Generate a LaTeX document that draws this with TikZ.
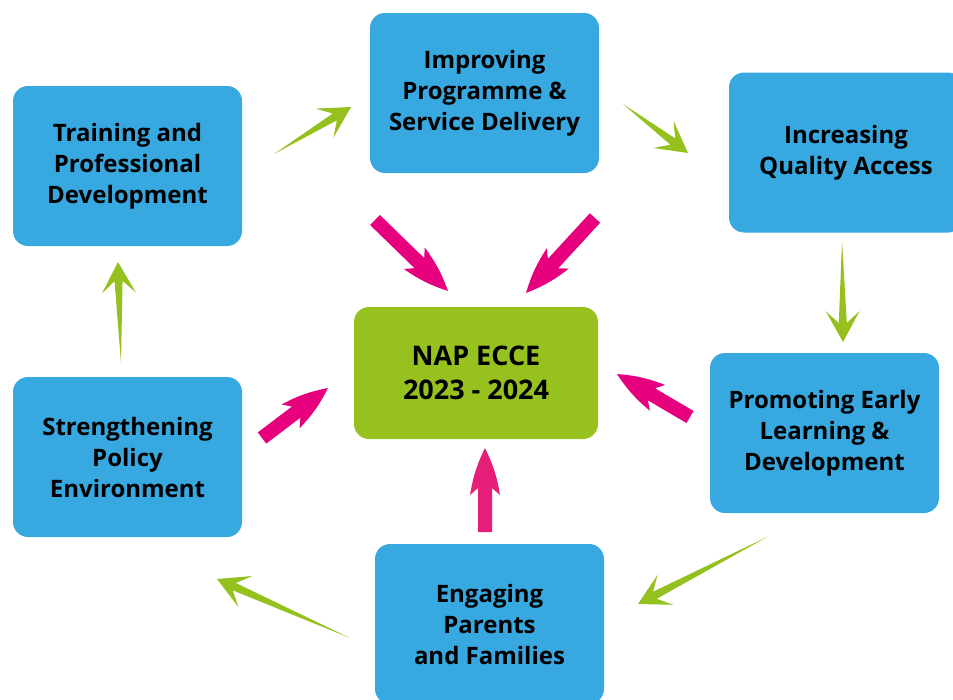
\documentclass[tikz,border=0pt]{standalone}
\usepackage{fontspec}
\usetikzlibrary{calc}

\newfontfamily\boxfont{Open Sans}
\definecolor{boxblue}{HTML}{38A8E0}
\definecolor{boxgreen}{HTML}{97C11F}
\definecolor{arrgreen}{HTML}{95C11F}
\definecolor{arrpink}{HTML}{E6007E}
\definecolor{arrpinkb}{HTML}{E61E78}

% thin-tailed green arrow, from #1 to #2
\newcommand{\greenarrow}[2]{%
  \fill[arrgreen] (#1) -- ($(#2)!19pt!(#1)!4pt!90:(#1)$)
    -- ($(#2)!31pt!(#1)!17pt!90:(#1)$) -- (#2)
    -- ($(#2)!31pt!(#1)!17pt!-90:(#1)$)
    -- ($(#2)!19pt!(#1)!4pt!-90:(#1)$) -- cycle;}
% thick pink arrow, from #2 to #3
\newcommand{\pinkarrow}[3][arrpink]{%
  \fill[#1] ($(#2)!7pt!-90:(#3)$) -- ($(#3)!40pt!(#2)!7pt!90:(#2)$)
    -- ($(#3)!47pt!(#2)!15pt!90:(#2)$) to[bend right=8] (#3)
    to[bend right=8] ($(#3)!47pt!(#2)!15pt!-90:(#2)$)
    -- ($(#3)!40pt!(#2)!7pt!-90:(#2)$) -- ($(#2)!7pt!90:(#3)$) -- cycle;}

\begin{document}
\begin{tikzpicture}[x=1pt, y=-1pt, box/.style = {rectangle, rounded corners=15pt,
	fill=boxblue, minimum width=229pt, minimum height=160pt, align=center,
	font=\boxfont\bfseries\fontsize{24}{31}\selectfont}]

	\useasboundingbox (0,0) rectangle (953,699);

	\node[box] (train) at (127.5,166) {Training and\\Professional\\Development};
	\node[box] (improve) at (484.5,93) {Improving\\Programme \&\\Service Delivery};
	\node[box, minimum width=234pt] (access) at (846,152.5) {Increasing\\Quality Access};
	\node[box] (promote) at (824.5,433) {Promoting Early\\Learning \&\\Development};
	\node[box] (engage) at (489.5,624) {Engaging\\Parents\\and Families};
	\node[box] (policy) at (127.5,457) {Strengthening\\Policy\\Environment};
	\node[box, fill=boxgreen, minimum width=244pt, minimum height=132pt,
		font=\boxfont\bfseries\fontsize{27}{34}\selectfont] (nap)
		at (476,373) {NAP ECCE\\2023 - 2024};

	% green arrows round the ring
	\coordinate (g1a) at (274,154); \coordinate (g1b) at (351,107);
	\coordinate (g2a) at (623,104); \coordinate (g2b) at (688,153);
	\coordinate (g3a) at (842,241); \coordinate (g3b) at (843,342);
	\coordinate (g4a) at (767,537); \coordinate (g4b) at (638,604);
	\coordinate (g5a) at (350,638); \coordinate (g5b) at (217,579);
	\coordinate (g6a) at (121,363); \coordinate (g6b) at (118,262);
	\greenarrow{g1a}{g1b}
	\greenarrow{g2a}{g2b}
	\greenarrow{g3a}{g3b}
	\greenarrow{g4a}{g4b}
	\greenarrow{g5a}{g5b}
	\greenarrow{g6a}{g6b}

	% pink arrows into the centre
	\coordinate (p1a) at (375,220); \coordinate (p1b) at (448,291);
	\coordinate (p2a) at (595,218); \coordinate (p2b) at (526,293);
	\coordinate (p3a) at (690,417); \coordinate (p3b) at (617,374);
	\coordinate (p4a) at (262,438); \coordinate (p4b) at (328,388);
	\coordinate (p5a) at (485,532); \coordinate (p5b) at (485,448);
	\pinkarrow{p1a}{p1b}
	\pinkarrow{p2a}{p2b}
	\pinkarrow{p3a}{p3b}
	\pinkarrow{p4a}{p4b}
	\pinkarrow[arrpinkb]{p5a}{p5b}
\end{tikzpicture}
\end{document}
